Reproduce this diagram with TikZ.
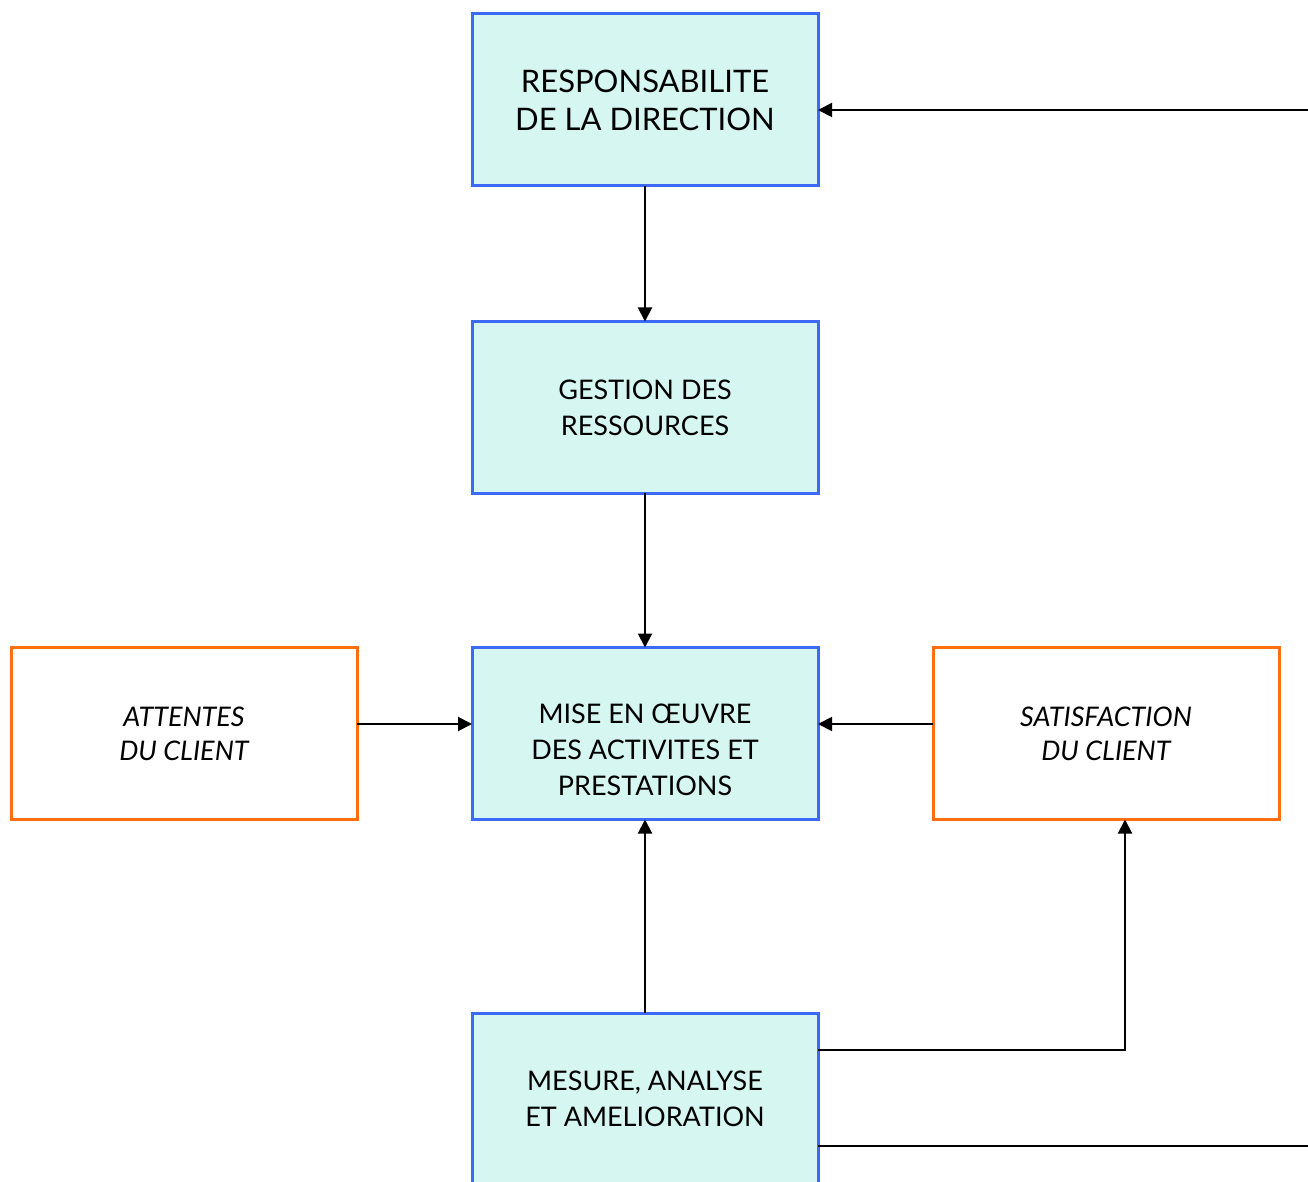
\documentclass[tikz,border=0pt]{standalone}
\usepackage{fontspec}
\setmainfont{Lato}
\usetikzlibrary{arrows.meta}
\definecolor{boxblue}{RGB}{60,105,245}
\definecolor{boxfill}{RGB}{214,246,242}
\definecolor{boxorange}{RGB}{255,110,15}
\begin{document}
\begin{tikzpicture}[x=0.5pt,y=-0.5pt,
  bluebox/.style={draw=boxblue,line width=1.5pt,fill=boxfill,minimum width=173pt,minimum height=86pt,inner sep=0pt,outer sep=0pt,align=center,font=\fontsize{13.5}{18}\selectfont},
  orangebox/.style={draw=boxorange,line width=1.5pt,fill=white,minimum width=173pt,minimum height=86pt,inner sep=0pt,outer sep=0pt,align=center,font=\fontsize{13.5}{17}\selectfont\itshape},
  lbl/.style={align=center,inner sep=0pt,font=\fontsize{13.5}{18}\selectfont},
  arr/.style={line width=1pt,-{Triangle[length=7pt,width=7pt]}},
  ln/.style={line width=1pt}]
\clip (0,0) rectangle (1308,1182);
\fill[white] (0,0) rectangle (1308,1182);
\node[bluebox,font=\fontsize{15.5}{19}\selectfont] (resp) at (645,100) {RESPONSABILITE\\DE LA DIRECTION};
\node[bluebox] (gest) at (645,407.5) {GESTION DES\\RESSOURCES};
\node[bluebox] (mise) at (645,733.5) {};
\node[lbl] (misetxt) at (645,750) {MISE EN ŒUVRE\\DES ACTIVITES ET\\PRESTATIONS};
\node[bluebox] (mes) at (645,1099) {MESURE, ANALYSE\\ET AMELIORATION};
\node[orangebox] (att) at (184,733.5) {ATTENTES\\DU CLIENT};
\node[orangebox] (sat) at (1106,733.5) {SATISFACTION\\DU CLIENT};
\coordinate (e1) at (1308,110);
\coordinate (h) at (645,724);
\coordinate (c1) at (1125,1050);
\coordinate (e2) at (1308,1146);
\draw[arr] (e1) -- (e1 -| resp.east);
\draw[arr] (resp.south) -- (gest.north);
\draw[arr] (gest.south) -- (mise.north);
\draw[arr] (h -| att.east) -- (h -| mise.west);
\draw[arr] (h -| sat.west) -- (h -| mise.east);
\draw[arr] (mes.north) -- (mise.south);
\draw[arr] (c1 -| mes.east) -- (c1) -- (c1 |- sat.south);
\draw[ln] (e2 -| mes.east) -- (e2);
\end{tikzpicture}
\end{document}
